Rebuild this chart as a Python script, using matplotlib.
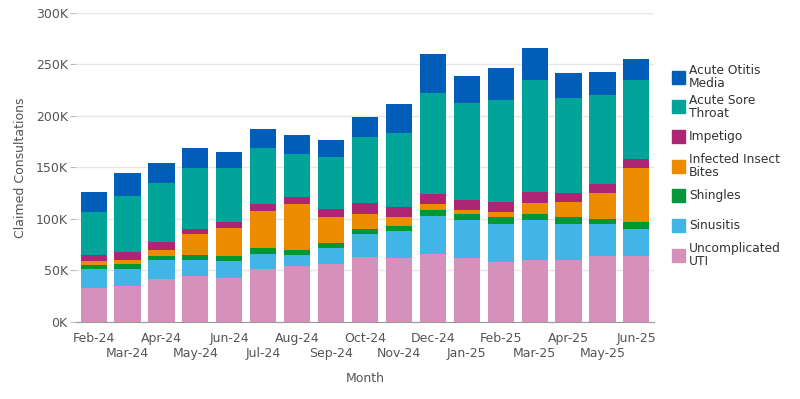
import matplotlib
matplotlib.use("Agg")
import matplotlib.pyplot as plt
from matplotlib.patches import Rectangle
import numpy as np

months = ["Feb-24", "Mar-24", "Apr-24", "May-24", "Jun-24", "Jul-24", "Aug-24", "Sep-24",
          "Oct-24", "Nov-24", "Dec-24", "Jan-25", "Feb-25", "Mar-25", "Apr-25", "May-25", "Jun-25"]

uti = [33.4, 35.0, 41.7, 44.4, 43.1, 51.8, 54.4, 56.7, 62.8, 61.6, 66.4, 61.6, 58.0, 60.2, 60.2, 63.8, 63.8]
sinusitis = [18.4, 16.8, 18.5, 15.8, 16.1, 14.6, 10.6, 14.9, 22.1, 26.7, 36.5, 37.8, 37.5, 39.2, 35.3, 30.8, 26.9]
shingles = [3.5, 4.5, 3.9, 4.8, 4.6, 5.2, 5.3, 4.8, 5.8, 4.9, 6.2, 4.9, 6.2, 5.8, 6.2, 5.8, 6.1]
insect_bites = [3.9, 3.9, 5.8, 19.9, 27.2, 36.2, 43.7, 25.3, 14.5, 8.5, 4.9, 4.8, 4.8, 9.8, 14.5, 24.5, 52.7]
impetigo = [5.8, 7.5, 7.5, 5.8, 5.8, 6.2, 7.1, 8.4, 9.8, 9.7, 9.7, 9.7, 9.7, 10.9, 8.7, 8.5, 8.2]
sore_throat = [41.5, 54.6, 57.3, 58.8, 52.7, 54.9, 41.4, 50.1, 64.6, 71.8, 98.6, 93.8, 99.0, 108.8, 92.6, 86.4, 77.0]
otitis = [19.4, 22.1, 19.4, 19.1, 15.5, 18.2, 18.5, 15.9, 19.4, 28.2, 37.9, 25.7, 31.4, 31.3, 24.2, 22.9, 20.2]

series_names = ["Uncomplicated\nUTI", "Sinusitis", "Shingles", "Infected Insect\nBites",
                "Impetigo", "Acute Sore\nThroat", "Acute Otitis\nMedia"]
series_vals = [uti, sinusitis, shingles, insect_bites, impetigo, sore_throat, otitis]
colors = ["#D691BA", "#41B6E6", "#009639", "#ED8B00", "#AE2573", "#00A499", "#005EB8"]

plt.rcParams['font.family'] = ['DejaVu Sans']
fig = plt.figure(figsize=(8, 3.99), dpi=100)
W, H = 800, 399
ax = fig.add_axes([0.095, 0.193, 0.7225, 0.775])

x = np.arange(len(months))
bottom = np.zeros(len(months))
for name, vals, c in zip(series_names, series_vals, colors):
    v = np.array(vals) * 1000
    ax.bar(x, v, 0.77, bottom=bottom, color=c, label=name, zorder=3)
    bottom += v

ax.set_xlim(-0.52, 16.52)
ax.set_ylim(0, 300000)
yt = np.arange(0, 300001, 50000)
ax.set_yticks(yt)
ax.set_yticklabels([f"{int(t/1000)}K" for t in yt])
ax.grid(axis='y', color='#e6e6e6', linewidth=1, zorder=0)
for s in ['top', 'right', 'left']:
    ax.spines[s].set_visible(False)
ax.spines['bottom'].set_color('#999999')
ax.tick_params(axis='y', length=4, color='#bbbbbb', labelcolor='#555555', labelsize=9, pad=2)

ax.set_xticks(x[::2])
ax.set_xticklabels(months[::2])
ax.set_xticks(x[1::2], minor=True)
ax.set_xticklabels(months[1::2], minor=True)
ax.tick_params(axis='x', which='major', length=0, labelcolor='#555555', labelsize=9, pad=7)
ax.tick_params(axis='x', which='minor', length=0, labelcolor='#555555', labelsize=9, pad=18)
ax.set_xlabel("Month", color='#555555', fontsize=9, labelpad=9)
ax.set_ylabel("Claimed Consultations", color='#555555', fontsize=9, labelpad=6)

# legend (top to bottom, reversed stacking order)
y0 = 77
step = 29.7
for i, (name, c) in enumerate(zip(series_names[::-1], colors[::-1])):
    yc = y0 + i * step
    fig.patches.append(Rectangle((672 / W, 1 - (yc + 6.5) / H), 13 / W, 13 / H,
                                 transform=fig.transFigure, color=c, figure=fig))
    fig.text(689 / W, 1 - yc / H, name, fontsize=8.8, color='#333333', va='center',
             ha='left', linespacing=1.0)

fig.savefig("out.png", dpi=100)
